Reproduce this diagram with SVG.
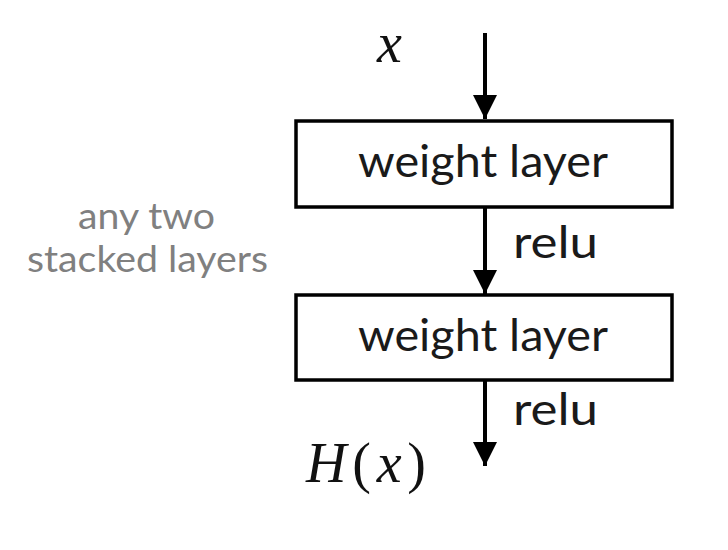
<svg xmlns="http://www.w3.org/2000/svg" width="728" height="550" viewBox="0 0 728 550">
<defs>
<style>
.box{fill:#fff;stroke:#000;stroke-width:3.5}
.lbl{font-family:Lato,"Open Sans","Liberation Sans",sans-serif;font-size:44px;fill:#1a1a1a}
.gray{font-family:Lato,"Open Sans","Liberation Sans",sans-serif;font-size:36px;fill:#808080}
.math{font-family:"Liberation Serif","DejaVu Serif",serif;font-size:56px;fill:#111}
.edge{stroke:#000;stroke-width:4;fill:none}
</style>
<marker id="arr" viewBox="0 0 24 24" markerWidth="24" markerHeight="24" refX="24" refY="12" orient="auto" markerUnits="userSpaceOnUse">
<path d="M0,0 L24,12 L0,24 Z" fill="#000"/>
</marker>
</defs>
<rect width="728" height="550" fill="#fff"/>
<g id="connectors">
<line class="edge" x1="485" y1="33" x2="485" y2="119" marker-end="url(#arr)"/>
<line class="edge" x1="485" y1="207" x2="485" y2="294" marker-end="url(#arr)"/>
<line class="edge" x1="485" y1="380" x2="485" y2="466" marker-end="url(#arr)"/>
</g>
<g id="input">
<text class="math" x="377" y="62" font-style="italic">x</text>
</g>
<g id="layer1">
<rect class="box" x="296" y="121" width="376" height="86"/>
<text class="lbl" x="358" y="177" textLength="250" lengthAdjust="spacingAndGlyphs">weight layer</text>
</g>
<g id="relu1">
<text class="lbl" x="513" y="258" textLength="85" lengthAdjust="spacingAndGlyphs">relu</text>
</g>
<g id="layer2">
<rect class="box" x="296" y="295" width="376" height="85"/>
<text class="lbl" x="358" y="351" textLength="250" lengthAdjust="spacingAndGlyphs">weight layer</text>
</g>
<g id="relu2">
<text class="lbl" x="513" y="425" textLength="85" lengthAdjust="spacingAndGlyphs">relu</text>
</g>
<g id="output">
<text class="math" x="306" y="482" textLength="120" lengthAdjust="spacing"><tspan font-style="italic">H</tspan>(<tspan font-style="italic">x</tspan>)</text>
</g>
<g id="annotation">
<text class="gray" x="78" y="229" textLength="137" lengthAdjust="spacingAndGlyphs">any two</text>
<text class="gray" x="27" y="272" textLength="241" lengthAdjust="spacingAndGlyphs">stacked layers</text>
</g>
</svg>
